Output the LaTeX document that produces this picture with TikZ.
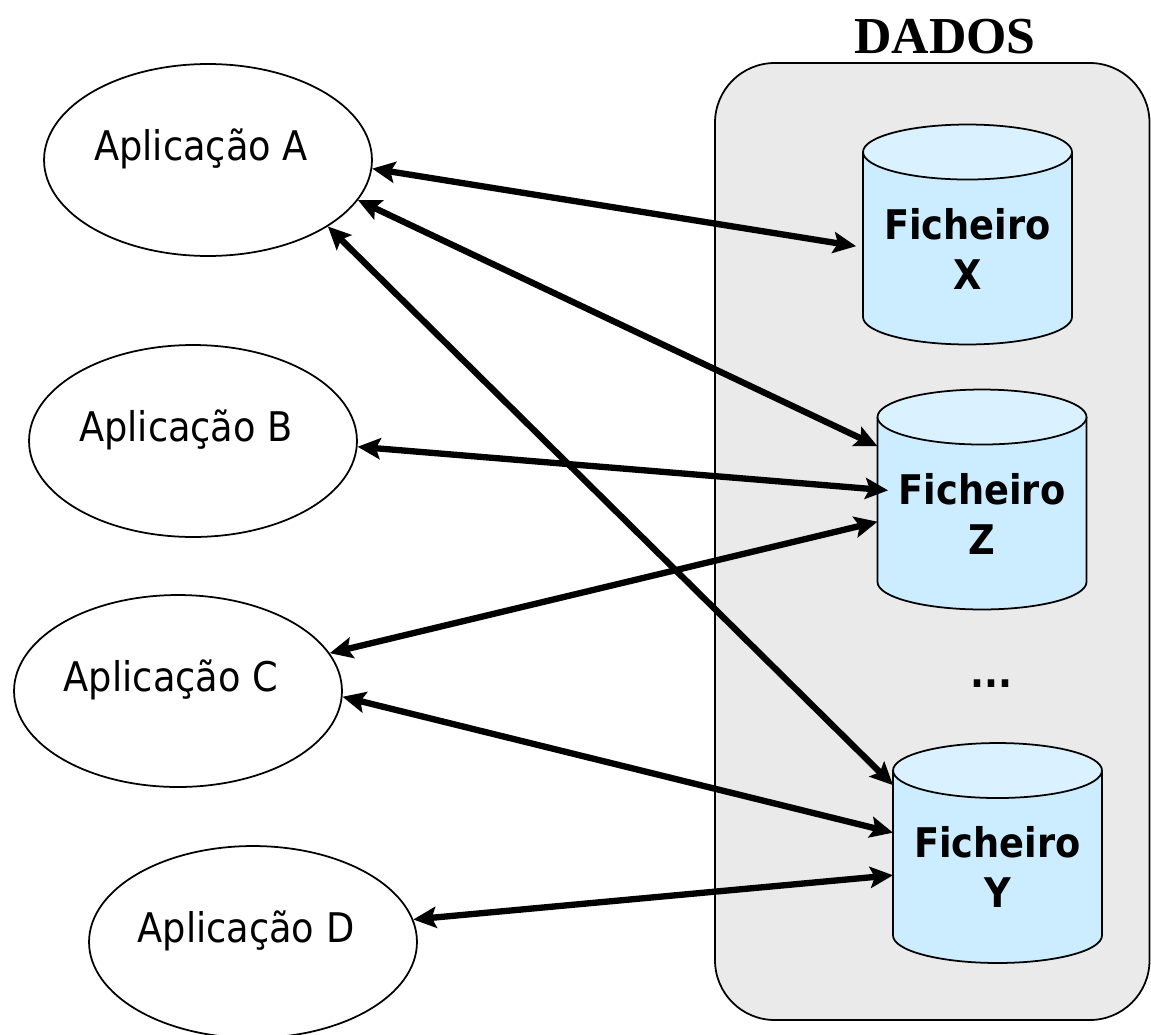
\documentclass[tikz,border=0pt]{standalone}
\usepackage{fontspec}
\setmainfont{Liberation Serif}
\newfontfamily\tahoma[FakeStretch=0.9]{DejaVu Sans}
\definecolor{boxgrey}{RGB}{234,234,234}
\definecolor{drumblue}{RGB}{204,236,255}
\definecolor{drumtop}{RGB}{218,241,255}
\usetikzlibrary{arrows.meta,shapes.geometric}
\tikzset{
  app/.style={draw, ellipse, fill=white, line width=1pt, minimum width=6.56cm, minimum height=3.84cm},
  apptext/.style={anchor=base, font=\tahoma\fontsize{23.25pt}{28pt}\selectfont},
  drum/.style={minimum width=4.18cm, minimum height=3.3cm, inner sep=0pt, outer sep=0pt},
  drumtext/.style={align=center, font=\tahoma\bfseries\fontsize{23.25pt}{28.4pt}\selectfont},
  link/.style={{Stealth[length=13pt,width=12pt,inset=2.5pt]}-{Stealth[length=13pt,width=12pt,inset=2.5pt]}, line width=3.6pt},
}

\begin{document}
\begin{tikzpicture}[x=0.02cm, y=0.02cm]
    \useasboundingbox (0,0) rectangle (1151,-1034);
    \draw[fill=boxgrey, line width=1pt, rounded corners=34pt] (715,-63) rectangle (1149.5,-1020);
    \node[anchor=base, font=\bfseries\fontsize{29.5pt}{34pt}\selectfont] (dados) at (945,-53) {DADOS};

    \node[app] (A) at (208,-160) {};
    \node[app] (B) at (193,-441) {};
    \node[app] (C) at (178,-691) {};
    \node[app] (D) at (253,-942) {};
    \foreach \n in {A,B,C,D}
      \node[apptext] at ([xshift=-4pt]\n.center) {Aplicação \n};

    \node[drum] (X) at (967.5,-234.5) {};
    \node[drum] (Z) at (982,-499.5) {};
    \node[drum] (Y) at (997.5,-853) {};
    \foreach \n in {X,Z,Y} {
      \fill[drumblue] (\n.north west) -- (\n.south west)
        arc[start angle=180, end angle=360, x radius=2.09cm, y radius=0.55cm] -- (\n.north east) -- cycle;
      \draw[line width=1pt] (\n.north west) -- (\n.south west)
        arc[start angle=180, end angle=360, x radius=2.09cm, y radius=0.55cm] -- (\n.north east);
      \draw[line width=1pt, fill=drumtop] (\n.north) ellipse[x radius=2.09cm, y radius=0.55cm];
      \node[drumtext] at ([yshift=-8pt]\n.center) {Ficheiro\\\n};
    }
    \node[anchor=base, font=\tahoma\bfseries\fontsize{23.25pt}{28pt}\selectfont] (dots) at (991,-687) {...};

    \draw[link, shorten >=4pt] (A.357) -- (X.187);
    \draw[link] (A.345) -- (Z.153);
    \draw[link] (A.331) -- (Y.147);
    \draw[link] (B.358) -- ([xshift=6pt]Z.175);
    \draw[link] (C.14) -- (Z.192);
    \draw[link] (C.358) -- (Y.169);
    \draw[link] (D.8) -- (Y.192);
  \end{tikzpicture}
\end{document}
